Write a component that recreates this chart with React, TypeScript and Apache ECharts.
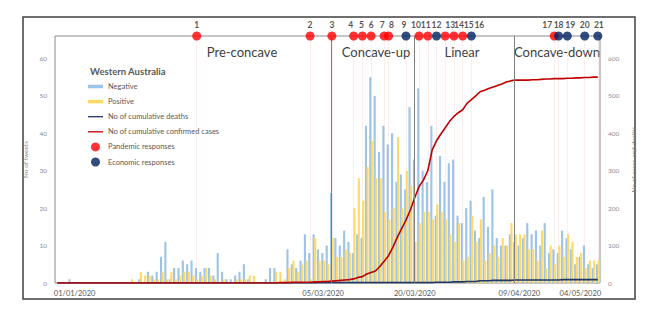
import React, { useEffect, useRef } from "react";
import * as echarts from "echarts";

// ---------- data ----------
const DAY_COUNT = 125; // 01/01/2020 .. 04/05/2020
const categories: string[] = Array.from({ length: DAY_COUNT }, (_, i) => {
  const d = new Date(2020, 0, 1 + i);
  const dd = String(d.getDate()).padStart(2, "0");
  const mm = String(d.getMonth() + 1).padStart(2, "0");
  return `${dd}/${mm}/${d.getFullYear()}`;
});

const negativeTweets: number[] = [
  0, 0, 0, 1, 0, 0, 0, 0, 0, 0,
  0, 0, 0, 0, 0, 0, 0, 0, 0, 1,
  0, 3, 2, 3, 7, 11, 1, 4, 4, 6,
  5, 6, 4, 3, 4, 4, 2, 8, 3, 1,
  1, 2, 3, 5, 1, 0, 0, 0, 1, 4,
  4, 0, 0, 9, 5, 4, 6, 13, 8, 13,
  9, 8, 10, 24, 12, 10, 14, 11, 8, 13,
  12, 42, 55, 50, 35, 42, 37, 40, 27, 29,
  25, 47, 33, 52, 30, 27, 42, 18, 34, 27,
  32, 33, 18, 16, 20, 22, 14, 12, 23, 15,
  25, 12, 10, 10, 13, 11, 10, 12, 16, 13,
  14, 10, 16, 8, 9, 8, 14, 12, 9, 5,
  7, 10, 5, 4, 5,
];

const positiveTweets: number[] = [
  0, 0, 0, 0, 0, 0, 0, 0, 0, 0,
  0, 0, 0, 0, 0, 0, 0, 1, 0, 3,
  2, 2, 1, 1, 3, 1, 3, 1, 2, 3,
  3, 2, 1, 2, 4, 2, 1, 0, 1, 0,
  0, 1, 1, 1, 2, 2, 0, 0, 0, 0,
  3, 3, 1, 4, 6, 3, 5, 6, 1, 12,
  6, 6, 5, 12, 7, 7, 9, 8, 20, 28,
  22, 31, 38, 28, 28, 19, 17, 20, 39, 20,
  30, 26, 11, 16, 19, 19, 17, 21, 19, 17,
  13, 11, 16, 6, 7, 18, 11, 17, 6, 8,
  10, 7, 12, 10, 16, 13, 13, 13, 9, 9,
  6, 14, 4, 10, 5, 10, 7, 13, 11, 7,
  8, 4, 6, 6, 6,
];

const cumulativeCases: number[] = [
  0, 0, 0, 0, 0, 0, 0, 0, 0, 0,
  0, 0, 0, 0, 0, 0, 0, 0, 0, 0,
  0, 0, 0, 0, 0, 0, 0, 0, 0, 0,
  0, 0, 0, 0, 0, 0, 0, 0, 0, 0,
  0, 0, 0, 0, 0, 0, 0, 0, 0, 0,
  0, 1, 1, 1, 2, 2, 2, 2, 2, 3,
  3, 4, 4, 5, 6, 7, 8, 9, 11, 15,
  17, 24, 28, 32, 44, 58, 73, 96, 122, 145,
  168, 195, 228, 258, 275, 300, 355, 380, 398, 415,
  432, 445, 455, 463, 480, 490, 500, 511, 515, 520,
  524, 528, 532, 537, 540, 542, 542, 542, 542, 543,
  543, 544, 545, 545, 546, 546, 546, 547, 547, 548,
  548, 549, 549, 550, 550,
];

const cumulativeDeaths: number[] = [
  0, 0, 0, 0, 0, 0, 0, 0, 0, 0,
  0, 0, 0, 0, 0, 0, 0, 0, 0, 0,
  0, 0, 0, 0, 0, 0, 0, 0, 0, 0,
  0, 0, 0, 0, 0, 0, 0, 0, 0, 0,
  0, 0, 0, 0, 0, 0, 0, 0, 0, 0,
  0, 0, 0, 0, 0, 0, 0, 0, 0, 0,
  1, 1, 1, 1, 1, 1, 1, 1, 1, 1,
  1, 1, 1, 1, 1, 1, 1, 1, 1, 1,
  1, 1, 1, 1, 1, 1, 1, 2, 2, 2,
  2, 3, 3, 3, 4, 4, 4, 6, 6, 6,
  7, 7, 7, 7, 7, 8, 8, 8, 8, 8,
  8, 8, 8, 8, 8, 8, 9, 9, 9, 9,
  9, 9, 9, 9, 9,
];

// government responses: number, day index, type (P = pandemic, E = economic)
const responseNumbers: number[] = [1, 2, 3, 4, 5, 6, 7, 8, 9, 10, 11, 12, 13, 14, 15, 16, 17, 18, 19, 20, 21];
const responseDays: number[] = [32, 58, 63, 68, 70, 72, 75, 76, 80, 83, 85, 87, 89, 91, 93, 95, 114, 115, 117, 121, 124];
const responseTypes: string[] = ["P", "P", "P", "P", "P", "P", "P", "P", "E", "P", "P", "E", "P", "P", "P", "E", "P", "E", "E", "E", "E"];

// phases
const phaseBoundaryDays: number[] = [63, 82, 105];
const phaseNames: string[] = ["Pre-concave", "Concave-up", "Linear", "Concave-down"];

// x tick labels shown (day index -> text)
const xTickDays: number[] = [4, 61, 82, 106, 120];
const xTickLabels: string[] = ["01/01/2020", "05/03/2020", "20/03/2020", "09/04/2020", "04/05/2020"];

const leftMax = 66;
const rightMax = 660;

// layout-only nudges of the response number labels (px)
const responseLabelShift: number[] = [0, 0, 0, -3, -1, 0, -2, 3, -2, -3, -2, 0, 5, 5, 6, 8, -7, 0, 3, 0, 1];

export default function App() {
  const ref = useRef<HTMLDivElement>(null);

  useEffect(() => {
    if (!ref.current) return;
    const chart = echarts.init(ref.current, undefined, { renderer: "svg" });

    const tickMap: Record<number, string> = {};
    xTickDays.forEach((d, k) => (tickMap[d] = xTickLabels[k]));

    const makeResponses = (type: string) =>
      responseDays
        .map((d, k) => ({ d, k }))
        .filter(({ k }) => responseTypes[k] === type)
        .map(({ d, k }) => ({
          value: [d, leftMax],
          name: String(responseNumbers[k]),
          label: { offset: [responseLabelShift[k], 0] },
        }));

    const makeDropLines = (type: string) =>
      responseDays
        .map((d, k) => ({ d, k }))
        .filter(({ k }) => responseTypes[k] === type)
        .map(({ d }) => ({ xAxis: d }));

    const phaseTextPos = [
      [242, 52],
      [376, 52],
      [462, 52],
      [557, 52],
    ];

    const grey = "#595959";
    const axisGrey = "#8c8c8c";

    const numberLabel = {
      show: true,
      position: "top",
      distance: 2,
      formatter: "{b}",
      fontSize: 8.5,
      fontWeight: "bold",
      color: "#262626",
    };

    const dropLine = (type: string) => ({
      silent: true,
      symbol: "none",
      z: 1,
      label: { show: false },
      lineStyle: { color: "#f4c6c6", width: 0.8, type: "dotted", opacity: 0.7 },
      data: makeDropLines(type),
    });

    chart.setOption({
      animation: false,
      textStyle: { fontFamily: "Lato, 'Liberation Sans', sans-serif" },
      title: {
        text: "Western Australia",
        left: 90,
        top: 66,
        padding: 0,
        textStyle: { fontSize: 9.5, fontWeight: "bold", color: grey, fontFamily: "Lato" },
      },
      legend: {
        orient: "vertical",
        left: 88,
        top: 82,
        padding: 0,
        itemWidth: 15,
        itemHeight: 9,
        itemGap: 6.1,
        textStyle: { fontSize: 7.5, color: grey, lineHeight: 9, fontFamily: "Lato" },
        data: [
          { name: "Negative", icon: "path://M0,0h15v3.5h-15z" },
          { name: "Positive", icon: "path://M0,0h15v3.5h-15z" },
          { name: "No of cumulative deaths", icon: "path://M0,0h15v1.3h-15z" },
          { name: "No of cumulative confirmed cases", icon: "path://M0,0h15v1.3h-15z" },
          { name: "Pandemic responses", icon: "circle" },
          { name: "Economic responses", icon: "circle" },
        ],
      },
      grid: {
        left: 55,
        top: 36,
        width: 545,
        height: 247,
        show: true,
        borderColor: axisGrey,
        borderWidth: 1,
      },
      xAxis: {
        type: "category",
        data: categories,
        boundaryGap: true,
        axisLine: { show: false },
        axisTick: { show: false },
        axisLabel: {
          interval: (i: number) => tickMap[i] !== undefined,
          formatter: (_v: string, i: number) => tickMap[i] ?? "",
          fontSize: 7.5,
          color: grey,
          margin: 6,
        },
      },
      yAxis: [
        {
          type: "value",
          min: 0,
          max: leftMax,
          interval: 10,
          position: "left",
          splitLine: { show: false },
          axisLine: { show: false },
          axisTick: { show: false },
          axisLabel: {
            fontSize: 6.5,
            color: axisGrey,
            margin: 8,
            showMaxLabel: false,
            formatter: (v: number) => (v % 10 === 0 ? String(v) : ""),
          },
          name: "No of tweets",
          nameLocation: "middle",
          nameGap: 15,
          nameTextStyle: { fontSize: 6.5, color: axisGrey },
        },
        {
          type: "value",
          min: 0,
          max: rightMax,
          interval: 100,
          position: "right",
          splitLine: { show: false },
          axisLine: { show: false },
          axisTick: { show: false },
          axisLabel: {
            fontSize: 6.5,
            color: axisGrey,
            margin: 8,
            showMaxLabel: false,
            formatter: (v: number) => (v % 100 === 0 ? String(v) : ""),
          },
          name: "No of cases and deaths",
          nameLocation: "middle",
          nameGap: 22,
          nameTextStyle: { fontSize: 6.5, color: "#7f7f7f" },
        },
      ],
      series: [
        {
          name: "Negative",
          type: "bar",
          data: negativeTweets,
          barCategoryGap: "15%",
          barGap: "-25%",
          itemStyle: { color: "#9DC3E6" },
          markLine: {
            silent: true,
            symbol: "none",
            z: 5,
            label: { show: false },
            lineStyle: { color: "#7f7f7f", width: 1, type: "solid" },
            data: phaseBoundaryDays.map((d) => ({ xAxis: d })),
          },
        },
        {
          name: "Positive",
          type: "bar",
          data: positiveTweets,
          barCategoryGap: "15%",
          barGap: "-25%",
          itemStyle: { color: "#FFD966" },
        },
        {
          name: "No of cumulative deaths",
          type: "line",
          yAxisIndex: 1,
          data: cumulativeDeaths,
          showSymbol: false,
          z: 3,
          itemStyle: { color: "#1F3864" },
          lineStyle: { color: "#1F3864", width: 1.6 },
        },
        {
          name: "No of cumulative confirmed cases",
          type: "line",
          yAxisIndex: 1,
          data: cumulativeCases,
          showSymbol: false,
          z: 4,
          itemStyle: { color: "#C00000" },
          lineStyle: { color: "#C00000", width: 1.6 },
        },
        {
          name: "Pandemic responses",
          type: "scatter",
          data: makeResponses("P"),
          symbolSize: 9,
          clip: false,
          z: 6,
          itemStyle: { color: "#FF0000" },
          label: numberLabel,
          markLine: dropLine("P"),
        },
        {
          name: "Economic responses",
          type: "scatter",
          data: makeResponses("E"),
          symbolSize: 9,
          clip: false,
          z: 7,
          itemStyle: { color: "#002060" },
          label: numberLabel,
          markLine: dropLine("E"),
        },
      ],
      graphic: [
        {
          type: "rect",
          z: -10,
          silent: true,
          shape: { x: 23, y: 17, width: 612, height: 282 },
          style: { fill: "none", stroke: "#404040", lineWidth: 1.5 },
        },
        ...phaseNames.map((t, k) => ({
          type: "text",
          x: phaseTextPos[k][0],
          y: phaseTextPos[k][1],
          silent: true,
          style: {
            text: t,
            fontSize: 13,
            fontFamily: "Lato",
            fill: "#404040",
            align: "center",
            verticalAlign: "middle",
          },
        })),
      ],
    });

    return () => chart.dispose();
  }, []);

  return (
    <div
      ref={ref}
      style={{ position: "absolute", left: 0, top: 0, width: 668, height: 330, background: "#fff" }}
    />
  );
}
